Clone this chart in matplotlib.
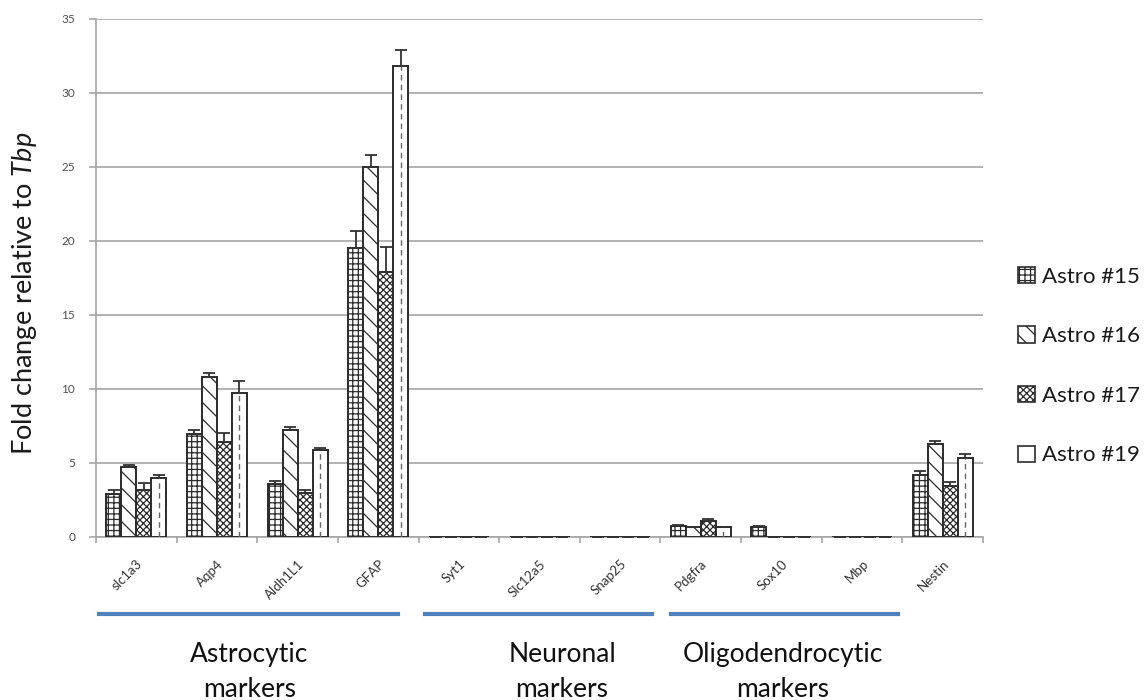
import matplotlib
matplotlib.use("Agg")
import matplotlib.pyplot as plt
import numpy as np
from matplotlib.patches import Patch
from matplotlib.lines import Line2D

plt.rcParams['font.family'] = ['Lato', 'DejaVu Sans']
plt.rcParams['mathtext.fontset'] = 'custom'
plt.rcParams['mathtext.it'] = 'Lato:italic'
plt.rcParams['mathtext.rm'] = 'Lato'
plt.rcParams['hatch.linewidth'] = 0.9

categories = ['slc1a3', 'Aqp4', 'Aldh1L1', 'GFAP', 'Syt1', 'Slc12a5', 'Snap25',
              'Pdgfra', 'Sox10', 'Mbp', 'Nestin']
series_names = ['Astro #15', 'Astro #16', 'Astro #17', 'Astro #19']

astro15 = [2.9, 6.95, 3.55, 19.5, 0.02, 0.02, 0.02, 0.75, 0.7, 0.02, 4.2]
astro16 = [4.7, 10.8, 7.25, 25.0, 0.02, 0.02, 0.02, 0.7, 0.02, 0.02, 6.25]
astro17 = [3.2, 6.4, 3.0, 17.9, 0.02, 0.02, 0.02, 1.1, 0.02, 0.02, 3.45]
astro19 = [4.0, 9.7, 5.85, 31.8, 0.02, 0.02, 0.02, 0.7, 0.02, 0.02, 5.35]

err15 = [0.25, 0.3, 0.2, 1.15, 0, 0, 0, 0.05, 0.05, 0, 0.25]
err16 = [0.15, 0.3, 0.2, 0.8, 0, 0, 0, 0.0, 0, 0, 0.2]
err17 = [0.45, 0.6, 0.2, 1.7, 0, 0, 0, 0.08, 0, 0, 0.25]
err19 = [0.15, 0.85, 0.15, 1.1, 0, 0, 0, 0.0, 0, 0, 0.25]

groups = ['Astrocytic\nmarkers', 'Neuronal\nmarkers', 'Oligodendrocytic\nmarkers']
group_spans = [(-0.46, 3.25), (3.58, 6.40), (6.63, 9.44)]
group_centers = [1.40, 5.28, 8.02]

values = [astro15, astro16, astro17, astro19]
errors = [err15, err16, err17, err19]
hatches = ['+++', '\\\\', 'xxxxx', '']

fig = plt.figure(figsize=(11.46, 7.0), dpi=100)
ax = fig.add_axes([0.0838, 0.233, 0.774, 0.740])

x = np.arange(len(categories))
w = 0.186
offsets = (np.arange(4) - 1.5) * w
ink = '#2b2b2b'
for i in range(4):
    xs = x + offsets[i]
    ax.bar(xs, values[i], width=w, color='white', edgecolor=ink,
           linewidth=1.4, hatch=hatches[i], zorder=3)
    errs = np.array(errors[i])
    ax.errorbar(xs, values[i], yerr=[np.zeros_like(errs), errs], fmt='none',
                ecolor='#333333', elinewidth=1.3, capsize=4, capthick=1.3, zorder=4)
    if i == 3:
        ax.vlines(xs, 0, values[i], colors='#666666', linestyles=(0, (4, 3)),
                  linewidth=1.0, zorder=4)

ax.set_xlim(-0.5, len(categories) - 0.5)
ax.set_ylim(0, 35)
ax.set_yticks(np.arange(0, 36, 5))
ax.yaxis.grid(True, color='#a6a6a6', linewidth=1.2, zorder=0)
ax.set_axisbelow(True)
for s in ['top', 'right']:
    ax.spines[s].set_visible(False)
ax.spines['left'].set_color('#a6a6a6')
ax.spines['bottom'].set_color('#a6a6a6')
ax.spines['left'].set_linewidth(1.2)
ax.spines['bottom'].set_linewidth(1.2)

ax.set_xticks(np.arange(-0.5, len(categories)), minor=False)
ax.set_xticklabels([])
ax.set_xticks(x, minor=True)
ax.set_xticklabels(categories, minor=True, rotation=45, ha='right',
                   rotation_mode='anchor', fontsize=9.5, color='#333333')
ax.tick_params(axis='x', which='minor', length=0, pad=15)
ax.tick_params(axis='x', which='major', length=4, color='#a6a6a6', width=1.2)
ax.tick_params(axis='y', length=5, color='#a6a6a6', width=1.2,
               labelsize=8.5, labelcolor='#505050', pad=10)

ax.set_ylabel(r'Fold change relative to $\mathit{Tbp}$', fontsize=19.5,
              color='#1a1a1a')
ax.yaxis.set_label_coords(-0.064, 0.471)

trans = ax.get_xaxis_transform()
for (x0, x1), cx, label in zip(group_spans, group_centers, groups):
    ax.add_line(Line2D([x0, x1], [-0.149, -0.149], transform=trans,
                       color='#4f81bd', linewidth=3, clip_on=False))
    ax.text(cx, -0.26, label, transform=trans, ha='center', va='center',
            fontsize=19, color='#111111', linespacing=1.5)

handles = [Patch(facecolor='white', edgecolor=ink, hatch=h if h else '', linewidth=1.2)
           for h in hatches]
fig.legend(handles, series_names, loc='center left', bbox_to_anchor=(0.877, 0.477),
           frameon=False, fontsize=16, labelspacing=1.78, handlelength=0.75,
           handleheight=0.75, handletextpad=0.3, labelcolor='#1a1a1a',
           borderaxespad=0.2)

fig.savefig('out.png', dpi=100)
